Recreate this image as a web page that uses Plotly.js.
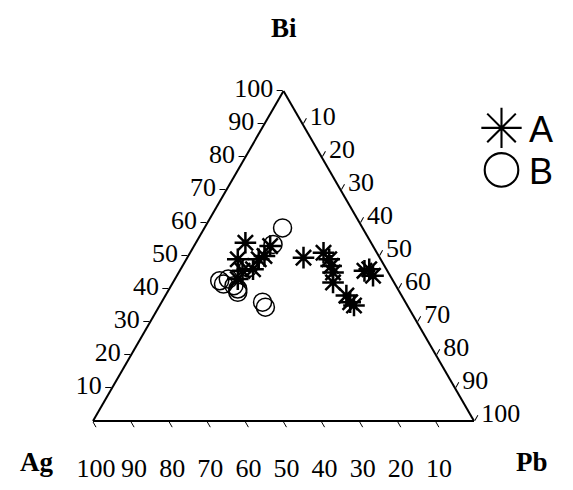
<!DOCTYPE html>
<html>
<head>
<meta charset="utf-8">
<script src="https://cdn.plot.ly/plotly-3.0.1.min.js"></script>
<style>html,body{margin:0;padding:0;background:#fff;}</style>
</head>
<body>
<div id="chart" style="width:573px;height:490px;"></div>
<script>
// Series A (asterisks): Bi, Ag, Pb in percent
const A_Bi = [54, 49, 50, 53, 46, 43, 49, 45.5, 49.5, 51, 49, 47, 45, 42, 38, 36, 35, 45.5, 44, 46];
const A_Ag = [33, 37.5, 30, 27, 35, 40.5, 32, 38, 20, 14, 13.5, 14, 14.5, 16, 14.5, 14.5, 14, 6, 4.5, 4.5];
const A_Pb = [13, 13.5, 20, 20, 19, 16.5, 19, 16.5, 30.5, 35, 37.5, 39, 40.5, 42, 47.5, 49.5, 51, 48.5, 51.5, 49.5];
// Series B (circles)
const B_Bi = [58.5, 53.5, 46.5, 42.5, 43, 41, 40, 39, 36, 34.5, 41.5];
const B_Ag = [21, 26, 36, 45.5, 43, 42.5, 42, 42.5, 37.5, 37.5, 45];
const B_Pb = [20.5, 20.5, 17.5, 12, 14, 16.5, 18, 18.5, 26.5, 28, 13.5];
// Tick values / labels
const tickVals = [10, 20, 30, 40, 50, 60, 70, 80, 90, 100];
const tickText = ['10', '20', '30', '40', '50', '60', '70', '80', '90', '100'];
const seriesNames = ['A', 'B'];
const axisNames = ['Bi', 'Ag', 'Pb'];

const serif = 'Liberation Serif, Times New Roman, serif';
const axisCommon = {
  tickmode: 'array',
  tickvals: tickVals,
  ticktext: tickText,
  ticks: 'outside',
  ticklen: 6,
  tickwidth: 1,
  tickcolor: '#000',
  tickfont: {family: serif, size: 26, color: '#000'},
  linecolor: '#000',
  linewidth: 2,
  showgrid: false,
  min: 0,
  title: {text: ''}
};

const traces = [
  {
    type: 'scatterternary', mode: 'markers', name: seriesNames[0],
    a: A_Bi, b: A_Ag, c: A_Pb,
    marker: {symbol: 'asterisk-open', size: 18, color: '#000', line: {color: '#000', width: 2.5}},
    cliponaxis: false
  },
  {
    type: 'scatterternary', mode: 'markers', name: seriesNames[1],
    a: B_Bi, b: B_Ag, c: B_Pb,
    marker: {symbol: 'circle-open', size: 18, color: '#000', line: {color: '#000', width: 1.5}},
    cliponaxis: false
  }
];

const PLOT_L = 93, PLOT_W = 388, PLOT_T = 88, PLOT_H = 336;
function pxX(px) { return (px - PLOT_L) / PLOT_W; }
function pxY(py) { return (PLOT_T + PLOT_H - py) / PLOT_H; }
const titleFont = {family: serif, size: 27, color: '#000'};

const layout = {
  width: 573, height: 490,
  margin: {l: PLOT_L, r: 573 - PLOT_L - PLOT_W, t: PLOT_T, b: 490 - PLOT_T - PLOT_H},
  paper_bgcolor: '#fff',
  showlegend: true,
  legend: {
    xref: 'container', yref: 'container',
    x: 474 / 573, y: 0.80, xanchor: 'left', yanchor: 'top',
    font: {family: 'Liberation Sans, Arial, sans-serif', size: 36, color: '#000'},
    bgcolor: 'rgba(0,0,0,0)', tracegroupgap: 0, itemwidth: 45
  },
  annotations: [
    {text: '<b>' + axisNames[0] + '</b>', xref: 'paper', yref: 'paper', x: pxX(287), y: pxY(28), showarrow: false, xanchor: 'center', yanchor: 'middle', font: titleFont},
    {text: '<b>' + axisNames[1] + '</b>', xref: 'paper', yref: 'paper', x: pxX(35), y: pxY(462), showarrow: false, xanchor: 'center', yanchor: 'middle', font: titleFont},
    {text: '<b>' + axisNames[2] + '</b>', xref: 'paper', yref: 'paper', x: pxX(540), y: pxY(462), showarrow: false, xanchor: 'center', yanchor: 'middle', font: titleFont}
  ],
  ternary: {
    sum: 100,
    bgcolor: '#fff',
    aaxis: Object.assign({}, axisCommon),
    baxis: Object.assign({}, axisCommon, {ticktext: tickText.map(t => '<span style="baseline-shift:-18px">' + t + '</span>')}),
    caxis: Object.assign({}, axisCommon)
  }
};

Plotly.newPlot('chart', traces, layout, {displayModeBar: false, staticPlot: true}).then(function () {
  document.querySelectorAll('.legend .legendpoints path').forEach(function (p) {
    var t = p.getAttribute('transform') || '';
    p.setAttribute('transform', t + ' scale(2.1)');
    p.style.strokeWidth = '1px';
  });
  var items = document.querySelectorAll('.legend .traces');
  if (items.length > 1) {
    var m = /translate\(([-\d.]+),\s*([-\d.]+)\)/.exec(items[0].getAttribute('transform') || '');
    if (m) {
      items[1].setAttribute('transform', 'translate(' + m[1] + ',' + (parseFloat(m[2]) + 42) + ')');
    }
  }
});
</script>
</body>
</html>
